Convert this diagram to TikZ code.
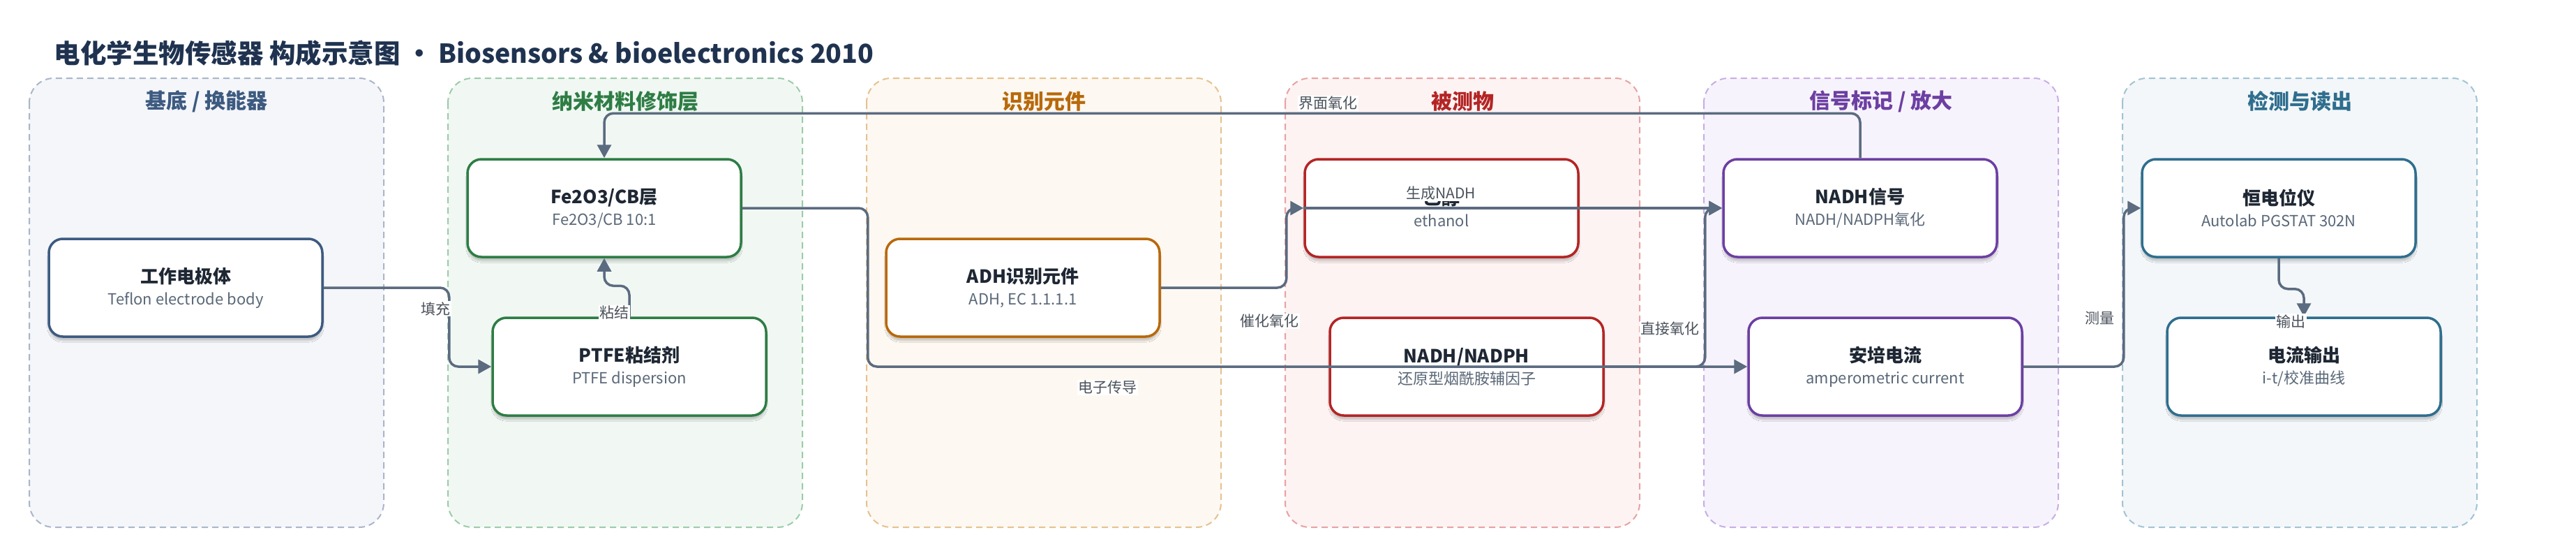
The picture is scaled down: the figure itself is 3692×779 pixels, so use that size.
\documentclass[tikz,border=0pt]{standalone}
\usepackage{fontspec}
\setmainfont{Noto Sans CJK SC}
\usetikzlibrary{arrows.meta,shadows.blur}

\definecolor{headc}{HTML}{1F3350}
\definecolor{edgec}{HTML}{5B6B80}
\definecolor{txtc}{HTML}{1E2733}
\definecolor{subc}{HTML}{5A6878}
\definecolor{blueC}{HTML}{3D5A80}\definecolor{blueF}{HTML}{F4F6FA}\definecolor{blueD}{HTML}{A9B6C9}
\definecolor{greenC}{HTML}{2E7D45}\definecolor{greenF}{HTML}{F1F8F3}\definecolor{greenD}{HTML}{9CCBAA}
\definecolor{orangeC}{HTML}{B8690A}\definecolor{orangeF}{HTML}{FDF8F1}\definecolor{orangeD}{HTML}{E5C28E}
\definecolor{redC}{HTML}{B42525}\definecolor{redF}{HTML}{FDF3F3}\definecolor{redD}{HTML}{E8A2A2}
\definecolor{purpleC}{HTML}{6C3FA2}\definecolor{purpleF}{HTML}{F7F3FC}\definecolor{purpleD}{HTML}{C7AEE4}
\definecolor{tealC}{HTML}{2F6E8E}\definecolor{tealF}{HTML}{F3F7F9}\definecolor{tealD}{HTML}{A2C3D3}

\newcommand{\boxlbl}[2]{{\fontsize{26}{31}\selectfont\bfseries #1}\\{\color{subc}#2}}

\begin{document}
\begin{tikzpicture}[x=1pt, y=-1pt,
    group/.style={draw=#1D, fill=#1F, line width=2pt, dash pattern=on 9pt off 6pt, rounded corners=35pt},
    gtitle/.style={text=#1C, font=\fontsize{30}{34}\selectfont\bfseries},
    box/.style={draw=#1C, line width=3.5pt, fill=white, rounded corners=20pt,
      minimum width=392pt, minimum height=140pt, align=center, text=txtc,
      font=\fontsize{22}{31}\selectfont,
      blur shadow={shadow xshift=0pt, shadow yshift=-6pt, shadow blur steps=10, shadow opacity=20}},
    edge/.style={draw=edgec, line width=3.5pt, rounded corners=13pt, -{Triangle[length=19pt, width=20pt]}},
    elabel/.style={fill=white, inner sep=1.5pt, text=txtc!80, font=\fontsize{21}{24}\selectfont}]
  \useasboundingbox (0,0) rectangle (3692,779);

  \node[anchor=west, text=headc, font=\fontsize{37.5}{42}\selectfont\bfseries] (head) at (74,76)
    {电化学生物传感器 构成示意图 • Biosensors \& bioelectronics 2010};

  % groups
  \draw[group=blue] (42,112) rectangle (550,755);
  \draw[group=green] (642,112) rectangle (1150,755);
  \draw[group=orange] (1242,112) rectangle (1750,755);
  \draw[group=red] (1842,112) rectangle (2350,755);
  \draw[group=purple] (2442,112) rectangle (2950,755);
  \draw[group=teal] (3042,112) rectangle (3550,755);

  \node[gtitle=blue] (g1) at (296,145) {基底 / 换能器};
  \node[gtitle=green] (g2) at (896,145) {纳米材料修饰层};
  \node[gtitle=orange] (g3) at (1496,145) {识别元件};
  \node[gtitle=red] (g4) at (2096,145) {被测物};
  \node[gtitle=purple] (g5) at (2696,145) {信号标记 / 放大};
  \node[gtitle=teal] (g6) at (3296,145) {检测与读出};

  % boxes
  \node[box=blue] (we) at (266,412) {\boxlbl{工作电极体}{Teflon electrode body}};
  \node[box=green] (fe) at (866,298) {\boxlbl{Fe2O3/CB层}{Fe2O3/CB 10:1}};
  \node[box=green] (ptfe) at (902,525) {\boxlbl{PTFE粘结剂}{PTFE dispersion}};
  \node[box=orange] (adh) at (1466,412) {\boxlbl{ADH识别元件}{ADH, EC 1.1.1.1}};
  \node[box=red] (eth) at (2066,298) {\boxlbl{乙醇}{ethanol}};
  \node[box=red] (nadh) at (2102,525) {\boxlbl{NADH/NADPH}{还原型烟酰胺辅因子}};
  \node[box=purple] (sig) at (2666,298) {\boxlbl{NADH信号}{NADH/NADPH氧化}};
  \node[box=purple] (amp) at (2702,525) {\boxlbl{安培电流}{amperometric current}};
  \node[box=teal] (pot) at (3266,298) {\boxlbl{恒电位仪}{Autolab PGSTAT 302N}};
  \node[box=teal] (out) at (3302,525) {\boxlbl{电流输出}{i-t/校准曲线}};

  % edges
  \draw[edge] (we.east) -- ++(180,0) |- (ptfe.west);
  \draw[edge] (ptfe.north) -- ++(0,-44) -| (fe.south);
  \draw[edge] (sig.north) -- ++(0,-64) -| (fe.north);
  \draw[edge] (fe.east) -- ++(180,0) |- (amp.west);
  \draw[edge] (adh.east) -- ++(180,0) |- (eth.west);
  \draw[edge] (eth.west) -- (sig.west);
  \draw[edge] (nadh.east) -- ++(144,0) |- (sig.west);
  \draw[edge] (amp.east) -- ++(144,0) |- (pot.west);
  \draw[edge] (pot.south) -- ++(0,44) -| (out.north);

  \node[elabel] (l1) at (624,442) {填充};
  \node[elabel] (l2) at (880,448) {粘结};
  \node[elabel] (l3) at (1903,148) {界面氧化};
  \node[elabel] (l4) at (1587,555) {电子传导};
  \node[elabel] (l5) at (1819,460) {催化氧化};
  \node[elabel] (l6) at (2065,277) {生成NADH};
  \node[elabel] (l7) at (2393,471) {直接氧化};
  \node[elabel] (l8) at (3009,456) {测量};
  \node[elabel] (l9) at (3283,460) {输出};
\end{tikzpicture}
\end{document}
